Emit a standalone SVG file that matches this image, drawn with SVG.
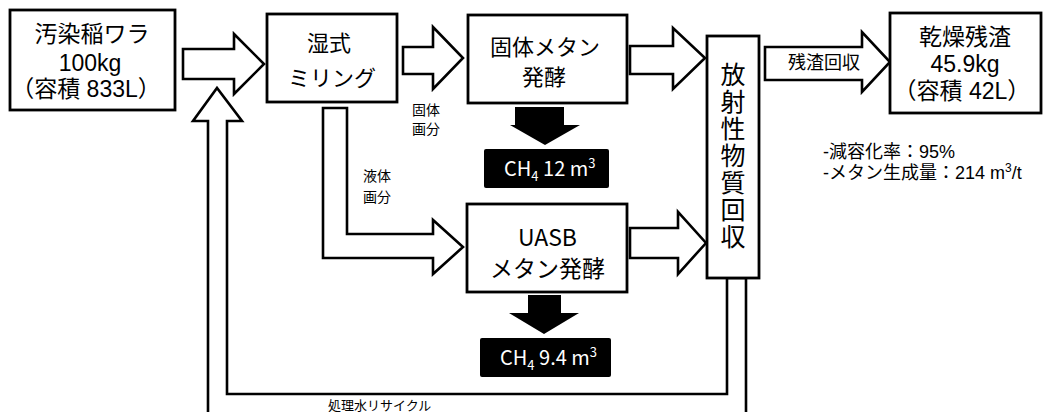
<svg xmlns="http://www.w3.org/2000/svg" width="1043" height="412" viewBox="0 0 1043 412">
<style>
.box{fill:#fff;stroke:#000;stroke-width:2.8}
.arr{fill:#fff;stroke:#000;stroke-width:2.6;stroke-linejoin:miter}
.blk{fill:#000;stroke:none}
text{font-family:"Noto Sans CJK JP","Liberation Sans",sans-serif;fill:#000}
.lat{font-family:"Liberation Sans","Noto Sans CJK JP",sans-serif}
.t23{font-size:23px}
.t22{font-size:22px}
.t13{font-size:13px}
.t14{font-size:14px}
.t18{font-size:18px}
.w{fill:#fff;font-size:20px}
</style>
<g id="connectors">
<polygon class="arr" points="183,49 234,49 234,34 264,64 234,94 234,79 183,79"/>
<polygon class="arr" points="403,47 433,47 433,27 463,58 433,89 433,74 403,74"/>
<polygon class="arr" points="630,46 673,46 673,28 705,58 673,89 673,74 630,74"/>
<polygon class="arr" points="630,228 678,228 678,212 706,243 678,274 678,258 630,258"/>
<polygon class="arr" points="323,108 347,108 347,234 433,234 433,220 463,247 433,274 433,258 323,258"/>
<polygon class="arr" points="765,47 862,47 862,32 890,62 862,92 862,80 765,80"/>
<polygon class="blk" points="515,107 564,107 564,125 580,125 545,145 510,125 515,125"/>
<polygon class="blk" points="528,295 561,295 561,313 579,313 544,334 509,313 528,313"/>
<polygon class="arr" points="208,414 208,121 193,121 217,88 242,121 227,121 227,394 727,394 727,278 746,278 746,414"/>
<text class="t18" x="788" y="69">残渣回収</text>
<text class="t14" x="412" y="115">固体</text>
<text class="t14" x="412" y="134">画分</text>
<text class="t14" x="363" y="181">液体</text>
<text class="t14" x="363" y="202">画分</text>
<text class="t13" x="328" y="410">処理水リサイクル</text>
</g>
<g id="n-straw">
<rect class="box" x="10" y="10" width="165" height="100"/>
<text class="t23" x="92" y="42" text-anchor="middle">汚染稲ワラ</text>
<text class="t23 lat" x="90" y="71" text-anchor="middle">100kg</text>
<text class="t23 lat" x="86" y="97" text-anchor="middle">（容積 833L）</text>
</g>
<g id="n-milling">
<rect class="box" x="267" y="14" width="130" height="88"/>
<text class="t22" x="307" y="51">湿式</text>
<text class="t22" x="288" y="86">ミリング</text>
</g>
<g id="n-solid">
<rect class="box" x="468" y="15" width="159" height="88"/>
<text class="t22" x="490" y="55">固体メタン</text>
<text class="t22" x="522" y="85">発酵</text>
</g>
<g id="n-ch4-1">
<rect class="blk" x="484" y="149" width="125" height="39" rx="2"/>
<text class="w" x="504" y="176">CH<tspan font-size="13" dy="5">4</tspan><tspan dy="-5"> 12 m</tspan><tspan font-size="13" dy="-8">3</tspan></text>
</g>
<g id="n-uasb">
<rect class="box" x="467" y="204" width="160" height="88"/>
<text class="t23" x="518" y="246">UASB</text>
<text class="t23" x="490" y="277">メタン発酵</text>
</g>
<g id="n-ch4-2">
<rect class="blk" x="480" y="338" width="131" height="39" rx="2"/>
<text class="w" x="500" y="365">CH<tspan font-size="13" dy="5">4</tspan><tspan dy="-5"> 9.4 m</tspan><tspan font-size="13" dy="-8">3</tspan></text>
</g>
<g id="n-recovery">
<rect class="box" x="707" y="36" width="52" height="242"/>
<text font-size="25" x="733" y="62" writing-mode="vertical-rl" letter-spacing="2">放射性物質回収</text>
</g>
<g id="n-residue">
<rect class="box" x="890" y="13" width="151" height="100"/>
<text class="t23" x="965" y="45" text-anchor="middle">乾燥残渣</text>
<text class="t23 lat" x="965" y="72" text-anchor="middle">45.9kg</text>
<text class="t23 lat" x="962" y="99" text-anchor="middle">（容積 42L）</text>
</g>
<g id="n-stats">
<text class="t18 lat" x="823" y="158">-減容化率：95%</text>
<text class="t18 lat" x="823" y="179">-メタン生成量：214 m<tspan font-size="12" dy="-7">3</tspan><tspan dy="7">/t</tspan></text>
</g>
</svg>
